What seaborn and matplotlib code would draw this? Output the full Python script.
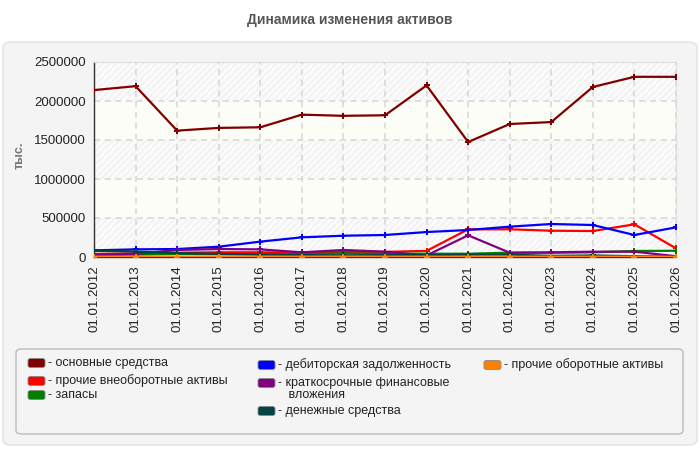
import textwrap
import pandas as pd
import matplotlib
matplotlib.use("Agg")
import matplotlib.pyplot as plt
from matplotlib.patches import FancyBboxPatch
import seaborn as sns

# ===============================
# Data, values in thousands
# ===============================
dates = ["01.01.2012", "01.01.2013", "01.01.2014", "01.01.2015", "01.01.2016",
         "01.01.2017", "01.01.2018", "01.01.2019", "01.01.2020", "01.01.2021",
         "01.01.2022", "01.01.2023", "01.01.2024", "01.01.2025", "01.01.2026"]

osnovnye = [2140000, 2190000, 1620000, 1655000, 1663000, 1825000, 1810000, 1817000,
            2200000, 1474000, 1705000, 1730000, 2180000, 2310000, 2310000]
prochie_vneob = [40000, 45000, 55000, 60000, 60000, 58000, 65000, 66000,
                 78000, 355000, 355000, 337000, 333000, 419000, 111000]
zapasy = [20000, 30000, 40000, 35000, 35000, 40000, 45000, 42000,
          42000, 42000, 55000, 55000, 60000, 77000, 80000]
debitor = [85000, 98000, 102000, 132000, 197000, 252000, 273000, 282000,
           320000, 346000, 389000, 423000, 410000, 282000, 380000]
kratkosroch = [30000, 40000, 90000, 102000, 98000, 60000, 90000, 68000,
               20000, 278000, 55000, 60000, 68000, 68000, 10000]
dengi = [80000, 70000, 50000, 40000, 30000, 25000, 20000, 25000,
         25000, 30000, 30000, 15000, 20000, 10000, 5000]
prochie_ob = [4000, 5000, 6000, 5000, 5000, 5000, 6000, 5000,
              5000, 4000, 5000, 5000, 5000, 4000, 3000]

series_names = ["основные средства", "прочие внеоборотные активы", "запасы",
                "дебиторская задолженность", "краткосрочные финансовые вложения",
                "денежные средства", "прочие оборотные активы"]
series_values = [osnovnye, prochie_vneob, zapasy, debitor, kratkosroch, dengi, prochie_ob]
series_colors = ["#800000", "#FF0000", "#008000", "#0000FF", "#800080", "#004444", "#FF8000"]

title = "Динамика изменения активов"
y_label = "тыс."

# ===============================
# Plot settings
# ===============================
sns.set_style("white")
plt.rcParams["font.family"] = ["Liberation Sans", "DejaVu Sans"]
plt.rcParams["hatch.linewidth"] = 0.7
GREY = "#555555"
W, H = 700, 450

rows = []
for name, vals in zip(series_names, series_values):
    for i, v in enumerate(vals):
        rows.append({"pos": i, "value": v, "series": name})
df = pd.DataFrame(rows)

fig = plt.figure(figsize=(7, 4.5), dpi=100)
fig.patch.set_facecolor("white")

# rounded grey panel behind everything
panel = FancyBboxPatch((3 / W, 5 / H), 694 / W, 403 / H, transform=fig.transFigure,
                       boxstyle="round,pad=0,rounding_size=0.012", facecolor="#f4f4f4",
                       edgecolor="#e2e2e2", linewidth=1, zorder=-2)
fig.patches.append(panel)

fig.text(0.5, 1 - 20 / H, title, ha="center", va="center", fontsize=10,
         fontweight="bold", color=GREY)

ax = fig.add_axes([94 / W, 1 - 257 / H, (676 - 94) / W, (257 - 62) / H])
ax.set_facecolor("#fdfdf8")

# alternating hatched bands
ymax = 2500000
for lo in range(0, ymax, 1000000):
    ax.axhspan(lo, lo + 500000, facecolor="#fafafa", edgecolor="#ededed",
               hatch="/////", linewidth=0, zorder=0)

ax.grid(True, color="#d6d6d6", linestyle=(0, (4, 3)), linewidth=1.1, zorder=1)
ax.set_axisbelow(True)

sns.lineplot(data=df, x="pos", y="value", hue="series", hue_order=series_names,
             palette=series_colors, marker="P", markersize=5, markeredgewidth=0,
             linewidth=1.6, legend=False, ax=ax, zorder=3)

ax.set_xlim(0, len(dates) - 1)
ax.set_ylim(0, ymax)
ax.set_xticks(range(len(dates)))
ax.set_xticklabels(dates, rotation=90, fontsize=9.5, color="#222222")
ax.set_yticks(range(0, ymax + 1, 500000))
ax.set_yticklabels([str(v) for v in range(0, ymax + 1, 500000)], fontsize=9.5,
                   color="#222222")
ax.tick_params(axis="both", length=4, width=1, color="#333333", pad=2)
ax.set_xlabel("")
ax.set_ylabel("")
for side in ["left", "bottom"]:
    ax.spines[side].set_color("#333333")
    ax.spines[side].set_linewidth(1)
for side in ["top", "right"]:
    ax.spines[side].set_color("#dddddd")

fig.text(20 / W, 1 - 155 / H, y_label, rotation=90, ha="center", va="center",
         fontsize=9, fontweight="bold", color="#777777")

# ===============================
# Legend box, drawn by hand (3 columns: 3 / 3 / 1 entries)
# ===============================
legend_box = FancyBboxPatch((16 / W, 1 - 434 / H), (683 - 16) / W, (434 - 349) / H,
                            transform=fig.transFigure,
                            boxstyle="round,pad=0,rounding_size=0.008",
                            facecolor="#f4f4f4", edgecolor="#bbbbbb", linewidth=1,
                            zorder=-1)
fig.patches.append(legend_box)

legend_pos = [(28, 363), (28, 381), (28, 395),
              (258, 365), (258, 383), (258, 411), (484, 365)]
for name, color, (px, py) in zip(series_names, series_colors, legend_pos):
    sw = FancyBboxPatch((px / W, 1 - (py + 4.5) / H), 17 / W, 9 / H,
                        transform=fig.transFigure,
                        boxstyle="round,pad=0,rounding_size=0.004",
                        facecolor=color, edgecolor="#888888", linewidth=0.6, zorder=2)
    fig.patches.append(sw)
    label = textwrap.fill("- " + name, 28, subsequent_indent="   ")
    nlines = label.count("\n")
    fig.text((px + 20) / W, 1 - (py + 6 * nlines) / H, label, ha="left",
             va="center", fontsize=9, color="#222222", linespacing=1.0)

plt.savefig("out.png", dpi=100, facecolor="white")
